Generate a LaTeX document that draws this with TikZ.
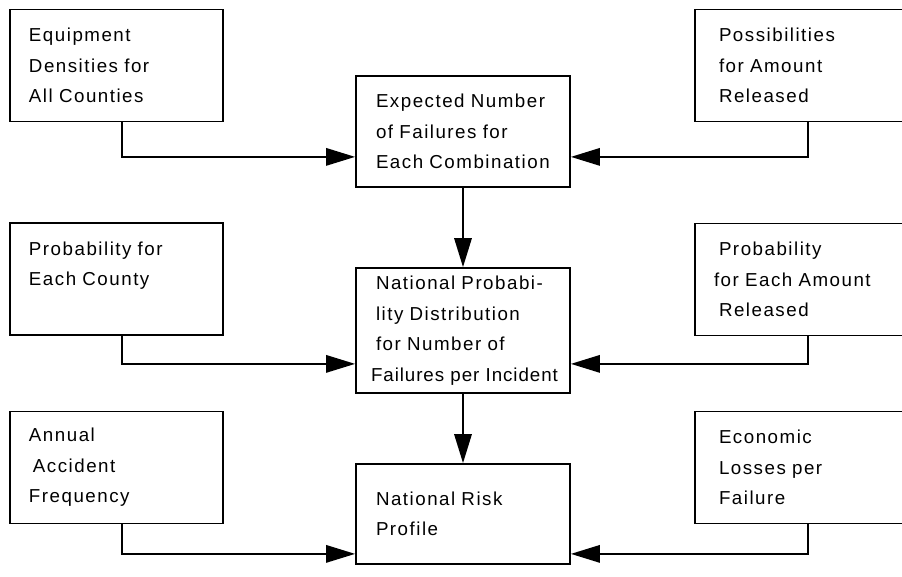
\documentclass[tikz,border=0pt]{standalone}
\usepackage{fontspec}
\setmainfont{Liberation Sans}[LetterSpace=8]
\usetikzlibrary{arrows.meta}
\newcommand\boxfont{\fontsize{16pt}{26pt}\selectfont}

\begin{document}
\begin{tikzpicture}[x=0.03cm, y=-0.03cm, >={Triangle[length=0.87cm, width=0.52cm]},
    box/.style={draw, line width=1.5pt, align=left, inner ysep=0pt, font=\boxfont},
    lbox/.style={box, inner xsep=0.57cm, text width=5.25cm, minimum height=3.36cm},
    mbox/.style={box, inner xsep=0.6cm, text width=5.22cm},
    rbox/.style={box, inner xsep=0.72cm, text width=4.95cm, minimum height=3.36cm},
    conn/.style={->, line width=1.8pt}]
    \useasboundingbox (0,0) rectangle (902,576);
    \clip (0,0) rectangle (902,576);
    % left column: inputs
    \node[lbox] (l1) at (116.5, 65.5) {Equipment\\Densities for\\All Counties};
    \node[lbox] (l2) at (116.5, 279) {Probability for\\Each County\\\mbox{}};
    \node[lbox] (l3) at (116.5, 467.5) {Annual\\\hspace*{0.12cm}Accident\\Frequency};
    % middle column: results
    \node[mbox, minimum height=3.33cm] (m1) at (463, 131.5) {Expected Number\\of Failures for\\Each Combination};
    \node[mbox, minimum height=3.75cm] (m2) at (463, 330.5) {National Probabi-\\lity Distribution\\for Number of\\\mbox{\hspace*{-0.15cm}\addfontfeatures{LetterSpace=5}Failures per Incident}};
    \node[mbox, minimum height=3.0cm] (m3) at (463, 514) {National Risk\\Profile};
    % right column: inputs
    \node[rbox] (r1) at (801.5, 65.5) {Possibilities\\for Amount\\Released};
    \node[rbox] (r2) at (801.5, 279.5) {Probability\\\hspace*{-0.15cm}for Each Amount\\Released};
    \node[rbox] (r3) at (801.5, 467.5) {Economic\\Losses per\\Failure};
    % arrows
    \draw[conn] ([xshift=0.165cm]l1.south) |- ([yshift=0.93cm]m1.south west);
    \draw[conn] ([xshift=0.195cm]r1.south) |- ([yshift=0.93cm]m1.south east);
    \draw[conn] (m1) -- (m2);
    \draw[conn] ([xshift=0.165cm]l2.south) |- ([yshift=0.9cm]m2.south west);
    \draw[conn] ([xshift=0.195cm]r2.south) |- ([yshift=0.9cm]m2.south east);
    \draw[conn] (m2) -- (m3);
    \draw[conn] ([xshift=0.165cm]l3.south) |- ([yshift=0.33cm]m3.south west);
    \draw[conn] ([xshift=0.195cm]r3.south) |- ([yshift=0.33cm]m3.south east);
\end{tikzpicture}
\end{document}
